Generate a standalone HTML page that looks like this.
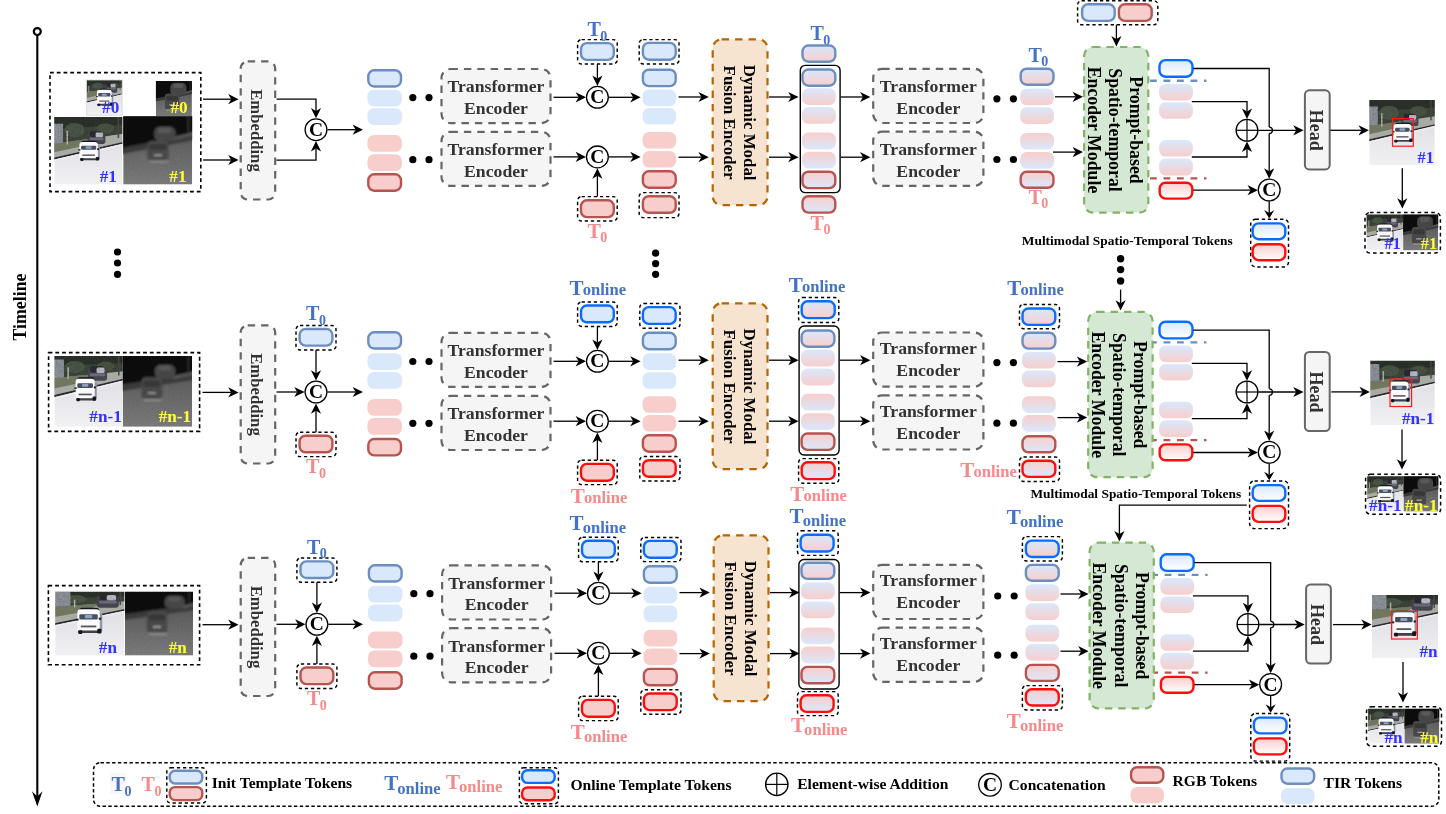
<!DOCTYPE html>
<html><head><meta charset="utf-8"><title>diagram</title>
<style>
html,body{margin:0;padding:0;background:#fff;}
svg{display:block;font-family:"Liberation Serif",serif;font-weight:bold;will-change:transform;}
</style></head><body>
<svg width="1446" height="814" viewBox="0 0 1446 814">
<defs>
<linearGradient id="gBP" x1="0" y1="0" x2="0" y2="1"><stop offset="0" stop-color="#dae8fc"/><stop offset="1" stop-color="#f8cecc"/></linearGradient>
<linearGradient id="gPB" x1="0" y1="0" x2="0" y2="1"><stop offset="0" stop-color="#f8cecc"/><stop offset="1" stop-color="#dae8fc"/></linearGradient>
<linearGradient id="gWB" x1="0" y1="0" x2="0" y2="1"><stop offset="0" stop-color="#dae8fc"/><stop offset="1" stop-color="#ffffff"/></linearGradient>
<linearGradient id="gWP" x1="0" y1="0" x2="0" y2="1"><stop offset="0" stop-color="#f8cecc"/><stop offset="1" stop-color="#ffffff"/></linearGradient>
<linearGradient id="gRoad" x1="0" y1="0" x2="0" y2="1"><stop offset="0.3" stop-color="#dfdfe4"/><stop offset="1" stop-color="#f1f1f4"/></linearGradient>
<linearGradient id="gTir" x1="0" y1="0" x2="0" y2="1"><stop offset="0.3" stop-color="#5c5c5c"/><stop offset="1" stop-color="#7b7b7b"/></linearGradient>
<filter id="bl" x="-5%" y="-5%" width="110%" height="110%"><feGaussianBlur stdDeviation="0.9"/></filter>
<filter id="bl2" x="-5%" y="-5%" width="110%" height="110%"><feGaussianBlur stdDeviation="1.6"/></filter>
<filter id="nz" x="0" y="0" width="100%" height="100%">
 <feTurbulence type="fractalNoise" baseFrequency="0.35" numOctaves="2" seed="7" result="n"/>
 <feColorMatrix in="n" type="matrix" values="0 0 0 0 0  0 0 0 0 0  0 0 0 0 0  0 0 0 -1.6 0.95" result="a"/>
 <feComposite in="a" in2="SourceGraphic" operator="in"/>
</filter>
<symbol id="rgbA" viewBox="0 0 100 100" preserveAspectRatio="none">
<rect width="100" height="100" fill="url(#gRoad)"/>
<g filter="url(#bl)">
<polygon points="-5,40.75 105,24.25 105,35.85 -5,61.15" fill="#a9aaa4"/>
<polygon points="-5,40.75 66,30.1 46,42.08 -5,53.4" fill="#6f775e"/>
<polygon points="-5,-5 105,-5 105,24.25 -5,40.75" fill="#3c443a"/>
<polygon points="-5,-5 105,-5 105,10.91 -5,18.34" fill="#2b322b"/>
<ellipse cx="30" cy="19.53" rx="15" ry="10.65" fill="#4a5546"/>
<ellipse cx="75" cy="17.25" rx="13" ry="8.05" fill="#485243"/>
<polygon points="-5,10 13,10 13,38 -5,40" fill="#8b9098"/>
<rect x="18" y="20.35" width="2.2" height="20.35" fill="#b5b1a4"/>
<rect x="93" y="0" width="2.2" height="31.05" fill="#4a4944"/>
<polygon points="-5,61.15 105,35.85 105,38.45 -5,64.15" fill="#2a2a2d"/>
<polygon points="-5,64.15 105,38.45 105,40.85 -5,67.15" fill="#ededf0"/>
<rect x="49" y="23.28" width="26" height="16.72" rx="4.16" fill="#45454f"/>
<rect x="52.12" y="21" width="18.2" height="8.55" rx="3.12" fill="#2a2a30"/>
<rect x="60.7" y="22.9" width="10.92" height="7.22" rx="2.08" fill="#b9b9c4"/>
<rect x="51.6" y="30.5" width="20.8" height="3.8" rx="2" fill="#6c6c78"/>
<rect x="39.4" y="35" width="24" height="6" rx="3.6" fill="#15151a"/>
<rect x="62.2" y="41" width="4.8" height="21" rx="1.5" fill="#8f95ab"/>
<rect x="37" y="36.8" width="27" height="26.4" rx="4.2" fill="#fafafa"/>
<rect x="39.4" y="42.5" width="22.2" height="6" rx="2" fill="#46505c"/>
<rect x="46" y="43.4" width="9" height="3.6" rx="1.5" fill="#8ea0c4"/>
<rect x="41.2" y="55.4" width="18.6" height="2.1" fill="#55565e"/>
<rect x="37.9" y="61.1" width="27" height="3" rx="1.5" fill="#3f3f46"/>
<rect x="38.2" y="60.8" width="4.8" height="4.2" rx="1.5" fill="#17171a"/>
<rect x="61" y="59" width="5.1" height="5.4" rx="1.5" fill="#17171a"/>
<rect x="35.5" y="47.6" width="3" height="2.1" fill="#222"/>
<rect x="62.8" y="46.4" width="3" height="2.4" fill="#222"/>
</g>
<polygon points="0,0 100,0 100,25 0,40" fill="#000" filter="url(#nz)" opacity="0.22"/>
</symbol>
<symbol id="rgbB" viewBox="0 0 100 100" preserveAspectRatio="none">
<rect width="100" height="100" fill="url(#gRoad)"/>
<g filter="url(#bl)">
<polygon points="-5,31.45 105,21.55 105,30.85 -5,56.15" fill="#a9aaa4"/>
<polygon points="-5,31.45 66,25.06 46,36.52 -5,46.76" fill="#6f775e"/>
<polygon points="-5,-5 105,-5 105,21.55 -5,31.45" fill="#3c443a"/>
<polygon points="-5,-5 105,-5 105,9.7 -5,14.15" fill="#2b322b"/>
<ellipse cx="30" cy="15.57" rx="15" ry="8.49" fill="#4a5546"/>
<ellipse cx="75" cy="14.55" rx="13" ry="6.79" fill="#485243"/>
<polygon points="-5,5 14,5 14,30 -5,32" fill="#8b9098"/>
<rect x="19" y="16.06" width="2.2" height="16.06" fill="#b5b1a4"/>
<rect x="93" y="0" width="2.2" height="27.63" fill="#4a4944"/>
<polygon points="-5,56.15 105,30.85 105,33.45 -5,59.15" fill="#2a2a2d"/>
<polygon points="-5,59.15 105,33.45 105,35.85 -5,62.15" fill="#ededf0"/>
<rect x="49" y="16.52" width="28" height="18.48" rx="4.48" fill="#45454f"/>
<rect x="52.36" y="14" width="19.6" height="9.45" rx="3.36" fill="#2a2a30"/>
<rect x="61.6" y="16.1" width="11.76" height="7.98" rx="2.24" fill="#b9b9c4"/>
<rect x="51.8" y="24.5" width="22.4" height="4.2" rx="2" fill="#6c6c78"/>
<rect x="33.48" y="30" width="24.8" height="6.8" rx="3.72" fill="#15151a"/>
<rect x="57.04" y="36.8" width="4.96" height="23.8" rx="1.5" fill="#8f95ab"/>
<rect x="31" y="32.04" width="27.9" height="29.92" rx="4.34" fill="#fafafa"/>
<rect x="33.48" y="38.5" width="22.94" height="6.8" rx="2" fill="#46505c"/>
<rect x="40.3" y="39.52" width="9.3" height="4.08" rx="1.5" fill="#8ea0c4"/>
<rect x="35.34" y="53.12" width="19.22" height="2.38" fill="#55565e"/>
<rect x="31.93" y="59.58" width="27.9" height="3.4" rx="1.5" fill="#3f3f46"/>
<rect x="32.24" y="59.24" width="4.96" height="4.76" rx="1.5" fill="#17171a"/>
<rect x="55.8" y="57.2" width="5.27" height="6.12" rx="1.5" fill="#17171a"/>
<rect x="29.45" y="44.28" width="3.1" height="2.38" fill="#222"/>
<rect x="57.66" y="42.92" width="3.1" height="2.72" fill="#222"/>
</g>
<polygon points="0,0 100,0 100,22 0,31" fill="#000" filter="url(#nz)" opacity="0.22"/>
</symbol>
<symbol id="rgbC" viewBox="0 0 100 100" preserveAspectRatio="none">
<rect width="100" height="100" fill="url(#gRoad)"/>
<g filter="url(#bl)">
<polygon points="-5,24.45 105,14.55 105,25.9 -5,50.1" fill="#a9aaa4"/>
<polygon points="-5,24.45 66,18.06 46,30.32 -5,40.35" fill="#6f775e"/>
<polygon points="-5,-5 105,-5 105,14.55 -5,24.45" fill="#3c443a"/>
<polygon points="-5,-5 105,-5 105,6.55 -5,11" fill="#2b322b"/>
<ellipse cx="30" cy="11.72" rx="15" ry="6.39" fill="#4a5546"/>
<ellipse cx="75" cy="10.35" rx="13" ry="4.83" fill="#485243"/>
<polygon points="-5,0 22,0 22,22 -5,24" fill="#8b9098"/>
<rect x="27" y="12.21" width="2.2" height="12.21" fill="#b5b1a4"/>
<rect x="93" y="0" width="2.2" height="20.63" fill="#4a4944"/>
<polygon points="-5,50.1 105,25.9 105,28.5 -5,53.1" fill="#2a2a2d"/>
<polygon points="-5,53.1 105,28.5 105,30.9 -5,56.1" fill="#ededf0"/>
<rect x="60" y="5.64" width="32" height="19.36" rx="5.12" fill="#45454f"/>
<rect x="63.84" y="3" width="22.4" height="9.9" rx="3.84" fill="#2a2a30"/>
<rect x="74.4" y="5.2" width="13.44" height="8.36" rx="2.56" fill="#b9b9c4"/>
<rect x="63.2" y="14" width="25.6" height="4.4" rx="2" fill="#6c6c78"/>
<rect x="34.88" y="25" width="28.8" height="8.2" rx="4.32" fill="#15151a"/>
<rect x="62.24" y="33.2" width="5.76" height="28.7" rx="1.5" fill="#8f95ab"/>
<rect x="32" y="27.46" width="32.4" height="36.08" rx="5.04" fill="#fafafa"/>
<rect x="34.88" y="35.25" width="26.64" height="8.2" rx="2" fill="#46505c"/>
<rect x="42.8" y="36.48" width="10.8" height="4.92" rx="1.5" fill="#8ea0c4"/>
<rect x="37.04" y="52.88" width="22.32" height="2.87" fill="#55565e"/>
<rect x="33.08" y="60.67" width="32.4" height="4.1" rx="1.5" fill="#3f3f46"/>
<rect x="33.44" y="60.26" width="5.76" height="5.74" rx="1.5" fill="#17171a"/>
<rect x="60.8" y="57.8" width="6.12" height="7.38" rx="1.5" fill="#17171a"/>
<rect x="30.2" y="42.22" width="3.6" height="2.87" fill="#222"/>
<rect x="62.96" y="40.58" width="3.6" height="3.28" fill="#222"/>
</g>
<polygon points="0,0 100,0 100,15 0,24" fill="#000" filter="url(#nz)" opacity="0.22"/>
</symbol>
<symbol id="tirA" viewBox="0 0 100 100" preserveAspectRatio="none">
<rect width="100" height="100" fill="url(#gTir)"/>
<g filter="url(#bl2)">
<polygon points="-5,-5 105,-5 105,34 -5,56" fill="#3a3a3a"/>
<polygon points="-5,-5 105,-5 105,25 -5,47" fill="#0a0a0a"/>
<polygon points="72,30.6 105,22 105,27 72,35.6" fill="#565656"/>
<rect x="93.5" y="0" width="1.8" height="27.2" fill="#3a3a3a"/>
<rect x="45" y="15" width="31" height="22" rx="8.68" fill="#474747"/>
<rect x="50.58" y="16.76" width="18.6" height="7.7" rx="3.72" fill="#5a5a5a"/>
<rect x="35" y="36" width="31" height="29.44" rx="6.2" fill="#4a4a4a"/>
<rect x="38.1" y="40.48" width="24.8" height="8.32" rx="3" fill="#383838"/>
<rect x="44.3" y="55.84" width="12.4" height="2.24" rx="1" fill="#a8a8a8"/>
<rect x="37.48" y="64.8" width="27.9" height="3.2" rx="2" fill="#8c8c8c"/>
</g>
<rect width="100" height="100" fill="#fff" filter="url(#nz)" opacity="0.07"/>
</symbol>
<symbol id="tirT" viewBox="0 0 100 100" preserveAspectRatio="none">
<rect width="100" height="100" fill="url(#gTir)"/>
<g filter="url(#bl2)">
<polygon points="-5,-5 105,-5 105,35.95 -5,59.05" fill="#3a3a3a"/>
<polygon points="-5,-5 105,-5 105,26.95 -5,50.05" fill="#0a0a0a"/>
<polygon points="81,30.99 105,23.95 105,28.95 81,35.99" fill="#565656"/>
<rect x="93.5" y="0" width="1.8" height="29.26" fill="#3a3a3a"/>
<rect x="40" y="5" width="45" height="35" rx="12.6" fill="#474747"/>
<rect x="48.1" y="7.8" width="27" height="12.25" rx="5.4" fill="#5a5a5a"/>
<rect x="25" y="35" width="40" height="46" rx="8" fill="#4a4a4a"/>
<rect x="29" y="42" width="32" height="13" rx="3" fill="#383838"/>
<rect x="37" y="66" width="16" height="3.5" rx="1" fill="#a8a8a8"/>
<rect x="28.2" y="80" width="36" height="5" rx="2" fill="#8c8c8c"/>
</g>
<rect width="100" height="100" fill="#fff" filter="url(#nz)" opacity="0.07"/>
</symbol>
<symbol id="rgbT" viewBox="0 0 100 100" preserveAspectRatio="none">
<rect width="100" height="100" fill="url(#gRoad)"/>
<g filter="url(#bl)">
<polygon points="-5,34.6 105,21.4 105,36.85 -5,62.15" fill="#a9aaa4"/>
<polygon points="-5,34.6 66,26.08 46,40.55 -5,51.68" fill="#6f775e"/>
<polygon points="-5,-5 105,-5 105,21.4 -5,34.6" fill="#3c443a"/>
<polygon points="-5,-5 105,-5 105,9.63 -5,15.57" fill="#2b322b"/>
<ellipse cx="30" cy="16.72" rx="15" ry="9.12" fill="#4a5546"/>
<ellipse cx="75" cy="15" rx="13" ry="7" fill="#485243"/>
<polygon points="-5,0 0,0 0,0 -5,2" fill="#8b9098"/>
<rect x="5" y="17.38" width="2.2" height="17.38" fill="#b5b1a4"/>
<rect x="93" y="0" width="2.2" height="27.84" fill="#4a4944"/>
<polygon points="-5,62.15 105,36.85 105,39.45 -5,65.15" fill="#2a2a2d"/>
<polygon points="-5,65.15 105,39.45 105,41.85 -5,68.15" fill="#ededf0"/>
<rect x="52" y="11.36" width="34" height="24.64" rx="5.44" fill="#45454f"/>
<rect x="56.08" y="8" width="23.8" height="12.6" rx="4.08" fill="#2a2a30"/>
<rect x="67.3" y="10.8" width="14.28" height="10.64" rx="2.72" fill="#b9b9c4"/>
<rect x="55.4" y="22" width="27.2" height="5.6" rx="2" fill="#6c6c78"/>
<rect x="32.68" y="25" width="36.8" height="9.8" rx="5.52" fill="#15151a"/>
<rect x="67.64" y="34.8" width="7.36" height="34.3" rx="1.5" fill="#8f95ab"/>
<rect x="29" y="27.94" width="41.4" height="43.12" rx="6.44" fill="#fafafa"/>
<rect x="32.68" y="37.25" width="34.04" height="9.8" rx="2" fill="#46505c"/>
<rect x="42.8" y="38.72" width="13.8" height="5.88" rx="1.5" fill="#8ea0c4"/>
<rect x="35.44" y="58.32" width="28.52" height="3.43" fill="#55565e"/>
<rect x="30.38" y="67.63" width="41.4" height="4.9" rx="1.5" fill="#3f3f46"/>
<rect x="30.84" y="67.14" width="7.36" height="6.86" rx="1.5" fill="#17171a"/>
<rect x="65.8" y="64.2" width="7.82" height="8.82" rx="1.5" fill="#17171a"/>
<rect x="26.7" y="45.58" width="4.6" height="3.43" fill="#222"/>
<rect x="68.56" y="43.62" width="4.6" height="3.92" fill="#222"/>
</g>
<polygon points="0,0 100,0 100,22 0,34" fill="#000" filter="url(#nz)" opacity="0.22"/>
</symbol>
<symbol id="tirB" viewBox="0 0 100 100" preserveAspectRatio="none">
<rect width="100" height="100" fill="url(#gTir)"/>
<g filter="url(#bl2)">
<polygon points="-5,-5 105,-5 105,33.25 -5,49.75" fill="#3a3a3a"/>
<polygon points="-5,-5 105,-5 105,24.25 -5,40.75" fill="#0a0a0a"/>
<polygon points="72,28.2 105,21.25 105,26.25 72,33.2" fill="#565656"/>
<rect x="93.5" y="0" width="1.8" height="25.9" fill="#3a3a3a"/>
<rect x="46" y="12" width="30" height="20" rx="8.4" fill="#474747"/>
<rect x="51.4" y="13.6" width="18" height="7" rx="3.6" fill="#5a5a5a"/>
<rect x="27" y="30" width="30" height="31.28" rx="6" fill="#4a4a4a"/>
<rect x="30" y="34.76" width="24" height="8.84" rx="3" fill="#383838"/>
<rect x="36" y="51.08" width="12" height="2.38" rx="1" fill="#a8a8a8"/>
<rect x="29.4" y="60.6" width="27" height="3.4" rx="2" fill="#8c8c8c"/>
</g>
<rect width="100" height="100" fill="#fff" filter="url(#nz)" opacity="0.07"/>
</symbol>
<symbol id="tirC" viewBox="0 0 100 100" preserveAspectRatio="none">
<rect width="100" height="100" fill="url(#gTir)"/>
<g filter="url(#bl2)">
<polygon points="-5,-5 105,-5 105,28.25 -5,44.75" fill="#3a3a3a"/>
<polygon points="-5,-5 105,-5 105,19.25 -5,35.75" fill="#0a0a0a"/>
<polygon points="84,21.4 105,16.25 105,21.25 84,26.4" fill="#565656"/>
<rect x="93.5" y="0" width="1.8" height="20.9" fill="#3a3a3a"/>
<rect x="58" y="6" width="30" height="20" rx="8.4" fill="#474747"/>
<rect x="63.4" y="7.6" width="18" height="7" rx="3.6" fill="#5a5a5a"/>
<rect x="32" y="30" width="30" height="34.96" rx="6" fill="#4a4a4a"/>
<rect x="35" y="35.32" width="24" height="9.88" rx="3" fill="#383838"/>
<rect x="41" y="53.56" width="12" height="2.66" rx="1" fill="#a8a8a8"/>
<rect x="34.4" y="64.2" width="27" height="3.8" rx="2" fill="#8c8c8c"/>
</g>
<rect width="100" height="100" fill="#fff" filter="url(#nz)" opacity="0.07"/>
</symbol>
</defs>
<rect width="1446" height="814" fill="#fff"/>

<g id="timeline">
<polyline points="37.3,35.5 37.3,797.5" fill="none" stroke="#000" stroke-width="2.1"/>
<circle cx="37.3" cy="31.6" r="3.5" fill="#fff" stroke="#000" stroke-width="2.2"/>
<polygon points="37.3,806.4 32,791.2 37.3,796.6 42.5,791.2" fill="#000"/>
<text transform="translate(25.7,307) rotate(-90)" font-size="17.8" fill="#000" text-anchor="middle">Timeline</text>
</g>
<circle cx="117.5" cy="252" r="3.6" fill="#000"/>
<circle cx="117.5" cy="263" r="3.6" fill="#000"/>
<circle cx="117.5" cy="274.3" r="3.6" fill="#000"/>
<circle cx="655.6" cy="253.2" r="3.6" fill="#000"/>
<circle cx="655.6" cy="263.6" r="3.6" fill="#000"/>
<circle cx="655.6" cy="274.3" r="3.6" fill="#000"/>
<circle cx="1120.6" cy="258.8" r="3.7" fill="#000"/>
<circle cx="1120.6" cy="269.6" r="3.7" fill="#000"/>
<circle cx="1120.6" cy="281" r="3.7" fill="#000"/>
<g id="rowA1">
<rect x="240.7" y="61.4" width="34.5" height="138.1" rx="7" fill="#f5f5f5" stroke="#666666" stroke-width="2.2" stroke-dasharray="7.4 6"/>
<text transform="translate(250.8,130.45) rotate(90)" font-size="16.7" fill="#333333" text-anchor="middle">Embedding</text>
<polyline points="203,99.2 231.2,99.2" fill="none" stroke="#000" stroke-width="1.3"/>
<polygon points="238.6,99.2 228.2,104.3 231.2,99.2 228.2,94.1" fill="#000"/>
<polyline points="203,160 231.2,160" fill="none" stroke="#000" stroke-width="1.3"/>
<polygon points="238.6,160 228.2,165.1 231.2,160 228.2,154.9" fill="#000"/>
<polyline points="276.5,99.2 316,99.2 316,110.9" fill="none" stroke="#000" stroke-width="1.3"/>
<polygon points="316,118.3 310.9,107.9 316,110.9 321.1,107.9" fill="#000"/>
<polyline points="276.5,160.2 316,160.2 316,148.5" fill="none" stroke="#000" stroke-width="1.3"/>
<polygon points="316,141.1 321.1,151.5 316,148.5 310.9,151.5" fill="#000"/>
<circle cx="316" cy="129.7" r="10.9" fill="#fff" stroke="#000" stroke-width="1.3"/>
<text x="316" y="135.8" font-size="19.5" fill="#000" text-anchor="middle">C</text>
<polyline points="327.4,129.7 355.6,129.7" fill="none" stroke="#000" stroke-width="1.3"/>
<polygon points="363,129.7 352.6,134.8 355.6,129.7 352.6,124.6" fill="#000"/>
<rect x="368.3" y="70.3" width="32.7" height="16.2" rx="5.9" fill="#dae8fc" stroke="#6c8ebf" stroke-width="2.4"/>
<rect x="367.4" y="89.7" width="34.5" height="16.8" rx="6.5" fill="#dae8fc"/>
<rect x="367.4" y="108.2" width="34.5" height="16.8" rx="6.5" fill="#dae8fc"/>
<rect x="367.4" y="135" width="34.5" height="16.8" rx="6.5" fill="#f8cecc"/>
<rect x="367.4" y="154.3" width="34.5" height="16.8" rx="6.5" fill="#f8cecc"/>
<rect x="368.3" y="174.3" width="32.7" height="16.4" rx="5.9" fill="#f8cecc" stroke="#b85450" stroke-width="2.4"/>
<circle cx="412.8" cy="97.6" r="3.6" fill="#000"/>
<circle cx="412.8" cy="159.7" r="3.6" fill="#000"/>
<circle cx="429" cy="97.6" r="3.6" fill="#000"/>
<circle cx="429" cy="159.7" r="3.6" fill="#000"/>
<rect x="441.5" y="69" width="109" height="54.1" rx="9" fill="#f5f5f5" stroke="#666666" stroke-width="2.2" stroke-dasharray="7.4 6"/>
<text x="496" y="92.3" font-size="17.7" fill="#333333" text-anchor="middle">Transformer</text>
<text x="496" y="113.8" font-size="17.7" fill="#333333" text-anchor="middle">Encoder</text>
<rect x="441.5" y="131.8" width="109" height="54.1" rx="9" fill="#f5f5f5" stroke="#666666" stroke-width="2.2" stroke-dasharray="7.4 6"/>
<text x="496" y="155.1" font-size="17.7" fill="#333333" text-anchor="middle">Transformer</text>
<text x="496" y="176.6" font-size="17.7" fill="#333333" text-anchor="middle">Encoder</text>
<polyline points="553.5,97.3 578.6,97.3" fill="none" stroke="#000" stroke-width="1.3"/>
<polygon points="586,97.3 575.6,102.4 578.6,97.3 575.6,92.2" fill="#000"/>
<polyline points="553.5,156.9 578.6,156.9" fill="none" stroke="#000" stroke-width="1.3"/>
<polygon points="586,156.9 575.6,162 578.6,156.9 575.6,151.8" fill="#000"/>
<rect x="577.6" y="39.6" width="39.6" height="24.4" rx="4" fill="none" stroke="#000" stroke-width="1.45" stroke-dasharray="3.3 2.8"/>
<rect x="581" y="43.1" width="32.8" height="16.8" rx="5.9" fill="#dae8fc" stroke="#6c8ebf" stroke-width="2.4"/>
<polyline points="597.4,64 597.4,78.5" fill="none" stroke="#000" stroke-width="1.3"/>
<polygon points="597.4,85.9 592.3,75.5 597.4,78.5 602.5,75.5" fill="#000"/>
<rect x="577.6" y="196.6" width="39.6" height="24.4" rx="4" fill="none" stroke="#000" stroke-width="1.45" stroke-dasharray="3.3 2.8"/>
<rect x="581" y="200.3" width="32.8" height="16.8" rx="5.9" fill="#f8cecc" stroke="#b85450" stroke-width="2.4"/>
<polyline points="597.4,196.6 597.4,175.7" fill="none" stroke="#000" stroke-width="1.3"/>
<polygon points="597.4,168.3 602.5,178.7 597.4,175.7 592.3,178.7" fill="#000"/>
<text x="587.4" y="36" font-size="20" fill="#4472c4">T<tspan font-size="14" dx="-0.4" dy="4.6">0</tspan></text>
<text x="587.4" y="237.6" font-size="20" fill="#f58a8a">T<tspan font-size="14" dx="-0.4" dy="4.6">0</tspan></text>
<circle cx="597.4" cy="97.3" r="10.9" fill="#fff" stroke="#000" stroke-width="1.3"/>
<text x="597.4" y="103.4" font-size="19.5" fill="#000" text-anchor="middle">C</text>
<circle cx="597.4" cy="156.9" r="10.9" fill="#fff" stroke="#000" stroke-width="1.3"/>
<text x="597.4" y="163" font-size="19.5" fill="#000" text-anchor="middle">C</text>
<polyline points="608.8,97.3 633.2,97.3" fill="none" stroke="#000" stroke-width="1.3"/>
<polygon points="640.6,97.3 630.2,102.4 633.2,97.3 630.2,92.2" fill="#000"/>
<polyline points="608.8,156.9 633.2,156.9" fill="none" stroke="#000" stroke-width="1.3"/>
<polygon points="640.6,156.9 630.2,162 633.2,156.9 630.2,151.8" fill="#000"/>
<rect x="639.2" y="39.6" width="39.8" height="24.4" rx="4" fill="none" stroke="#000" stroke-width="1.45" stroke-dasharray="3.3 2.8"/>
<rect x="639.2" y="192.6" width="39.8" height="25" rx="4" fill="none" stroke="#000" stroke-width="1.45" stroke-dasharray="3.3 2.8"/>
<rect x="642.9" y="42.9" width="32.8" height="16.8" rx="5.9" fill="#dae8fc" stroke="#6c8ebf" stroke-width="2.4"/>
<rect x="642.9" y="69.7" width="32.8" height="16.4" rx="5.9" fill="#dae8fc" stroke="#6c8ebf" stroke-width="2.4"/>
<rect x="642.6" y="89.6" width="33.6" height="16.6" rx="6.5" fill="#dae8fc"/>
<rect x="642.6" y="108" width="33.6" height="16.6" rx="6.5" fill="#dae8fc"/>
<rect x="642.6" y="132" width="33.6" height="16.6" rx="6.5" fill="#f8cecc"/>
<rect x="642.6" y="151" width="33.6" height="16.6" rx="6.5" fill="#f8cecc"/>
<rect x="642.9" y="171.3" width="32.8" height="16.4" rx="5.9" fill="#f8cecc" stroke="#b85450" stroke-width="2.4"/>
<rect x="642.9" y="196.2" width="32.8" height="16.6" rx="5.9" fill="#f8cecc" stroke="#b85450" stroke-width="2.4"/>
<polyline points="678.5,97 701.4,97" fill="none" stroke="#000" stroke-width="1.3"/>
<polygon points="708.8,97 698.4,102.1 701.4,97 698.4,91.9" fill="#000"/>
<polyline points="678.5,157.2 701.4,157.2" fill="none" stroke="#000" stroke-width="1.3"/>
<polygon points="708.8,157.2 698.4,162.3 701.4,157.2 698.4,152.1" fill="#000"/>
<rect x="712.7" y="39.4" width="54.8" height="165.8" rx="9" fill="#f6e4d0" stroke="#b46504" stroke-width="2.2" stroke-dasharray="7.4 6"/>
<text transform="translate(744.2,122.6) rotate(90)" font-size="16.9" fill="#000" text-anchor="middle">Dynamic Modal</text>
<text transform="translate(723.6,122.6) rotate(90)" font-size="16.9" fill="#000" text-anchor="middle">Fusion Encoder</text>
<polyline points="769,97 791.2,97" fill="none" stroke="#000" stroke-width="1.3"/>
<polygon points="798.6,97 788.2,102.1 791.2,97 788.2,91.9" fill="#000"/>
<polyline points="769,157.2 791.2,157.2" fill="none" stroke="#000" stroke-width="1.3"/>
<polygon points="798.6,157.2 788.2,162.3 791.2,157.2 788.2,152.1" fill="#000"/>
<text x="810.4" y="40.3" font-size="20" fill="#4472c4">T<tspan font-size="14" dx="-0.4" dy="4.6">0</tspan></text>
<text x="810.6" y="229.6" font-size="20" fill="#f58a8a">T<tspan font-size="14" dx="-0.4" dy="4.6">0</tspan></text>
<rect x="802.5" y="45.5" width="32.8" height="16.2" rx="5.9" fill="url(#gBP)" stroke="#6c8ebf" stroke-width="2.4"/>
<rect x="802.5" y="196.2" width="32.8" height="16.4" rx="5.9" fill="url(#gPB)" stroke="#b85450" stroke-width="2.4"/>
<rect x="800.3" y="65.4" width="39.8" height="127.2" rx="5" fill="none" stroke="#000" stroke-width="1.4"/>
<rect x="802.5" y="69.5" width="32.8" height="16.2" rx="5.9" fill="url(#gBP)" stroke="#6c8ebf" stroke-width="2.4"/>
<rect x="802" y="88.2" width="33.8" height="16.8" rx="6.5" fill="url(#gBP)"/>
<rect x="802" y="107" width="33.8" height="16.8" rx="6.5" fill="url(#gBP)"/>
<rect x="802" y="132.6" width="33.8" height="16.8" rx="6.5" fill="url(#gPB)"/>
<rect x="802" y="151.8" width="33.8" height="16.8" rx="6.5" fill="url(#gPB)"/>
<rect x="802.5" y="171.7" width="32.8" height="16.4" rx="5.9" fill="url(#gPB)" stroke="#b85450" stroke-width="2.4"/>
<polyline points="840.8,97 863,97" fill="none" stroke="#000" stroke-width="1.3"/>
<polygon points="870.4,97 860,102.1 863,97 860,91.9" fill="#000"/>
<polyline points="840.8,157.2 863,157.2" fill="none" stroke="#000" stroke-width="1.3"/>
<polygon points="870.4,157.2 860,162.3 863,157.2 860,152.1" fill="#000"/>
<rect x="873.2" y="68.8" width="110.2" height="54.2" rx="9" fill="#f5f5f5" stroke="#666666" stroke-width="2.2" stroke-dasharray="7.4 6"/>
<text x="928.3" y="92.1" font-size="17.7" fill="#333333" text-anchor="middle">Transformer</text>
<text x="928.3" y="113.6" font-size="17.7" fill="#333333" text-anchor="middle">Encoder</text>
<rect x="873.2" y="131.7" width="110.2" height="54.2" rx="9" fill="#f5f5f5" stroke="#666666" stroke-width="2.2" stroke-dasharray="7.4 6"/>
<text x="928.3" y="155" font-size="17.7" fill="#333333" text-anchor="middle">Transformer</text>
<text x="928.3" y="176.5" font-size="17.7" fill="#333333" text-anchor="middle">Encoder</text>
<circle cx="996.9" cy="98.8" r="3.6" fill="#000"/>
<circle cx="996.9" cy="159.5" r="3.6" fill="#000"/>
<circle cx="1013.4" cy="98.8" r="3.6" fill="#000"/>
<circle cx="1013.4" cy="159.5" r="3.6" fill="#000"/>
<text x="1028.4" y="61.5" font-size="20" fill="#4472c4">T<tspan font-size="14" dx="-0.4" dy="4.6">0</tspan></text>
<text x="1028.4" y="203.6" font-size="20" fill="#f58a8a">T<tspan font-size="14" dx="-0.4" dy="4.6">0</tspan></text>
<rect x="1020.7" y="68.7" width="32.8" height="16" rx="5.9" fill="url(#gBP)" stroke="#6c8ebf" stroke-width="2.4"/>
<rect x="1020.2" y="88.4" width="33.8" height="16.7" rx="6.5" fill="url(#gBP)"/>
<rect x="1020.2" y="107.2" width="33.8" height="16.7" rx="6.5" fill="url(#gBP)"/>
<rect x="1020.2" y="132.9" width="33.8" height="16.7" rx="6.5" fill="url(#gPB)"/>
<rect x="1020.2" y="152.1" width="33.8" height="16.7" rx="6.5" fill="url(#gPB)"/>
<rect x="1020.7" y="171.8" width="32.8" height="16" rx="5.9" fill="url(#gPB)" stroke="#b85450" stroke-width="2.4"/>
<polyline points="1055,96.8 1075.6,96.8" fill="none" stroke="#000" stroke-width="1.3"/>
<polygon points="1083,96.8 1072.6,101.9 1075.6,96.8 1072.6,91.7" fill="#000"/>
<polyline points="1053,152.1 1075.6,152.1" fill="none" stroke="#000" stroke-width="1.3"/>
<polygon points="1083,152.1 1072.6,157.2 1075.6,152.1 1072.6,147" fill="#000"/>
</g>
<g id="rowA2">
<rect x="240.7" y="325.4" width="34.5" height="138.1" rx="7" fill="#f5f5f5" stroke="#666666" stroke-width="2.2" stroke-dasharray="7.4 6"/>
<text transform="translate(250.8,394.45) rotate(90)" font-size="16.7" fill="#333333" text-anchor="middle">Embedding</text>
<polyline points="202.5,392.4 231.2,392.4" fill="none" stroke="#000" stroke-width="1.3"/>
<polygon points="238.6,392.4 228.2,397.5 231.2,392.4 228.2,387.3" fill="#000"/>
<polyline points="276.5,392 297.2,392" fill="none" stroke="#000" stroke-width="1.3"/>
<polygon points="304.6,392 294.2,397.1 297.2,392 294.2,386.9" fill="#000"/>
<rect x="296" y="325.5" width="40" height="24.4" rx="4" fill="none" stroke="#000" stroke-width="1.45" stroke-dasharray="3.3 2.8"/>
<rect x="299.6" y="329" width="32.8" height="16.6" rx="5.9" fill="#dae8fc" stroke="#6c8ebf" stroke-width="2.4"/>
<text x="306" y="319.9" font-size="20" fill="#4472c4">T<tspan font-size="14" dx="-0.4" dy="4.6">0</tspan></text>
<polyline points="316,349.9 316,373.2" fill="none" stroke="#000" stroke-width="1.3"/>
<polygon points="316,380.6 310.9,370.2 316,373.2 321.1,370.2" fill="#000"/>
<rect x="296" y="432.2" width="40" height="24.4" rx="4" fill="none" stroke="#000" stroke-width="1.45" stroke-dasharray="3.3 2.8"/>
<rect x="299.6" y="435.7" width="32.8" height="16.6" rx="5.9" fill="#f8cecc" stroke="#b85450" stroke-width="2.4"/>
<text x="306" y="473.2" font-size="20" fill="#f58a8a">T<tspan font-size="14" dx="-0.4" dy="4.6">0</tspan></text>
<polyline points="316,432.2 316,410.8" fill="none" stroke="#000" stroke-width="1.3"/>
<polygon points="316,403.4 321.1,413.8 316,410.8 310.9,413.8" fill="#000"/>
<circle cx="316" cy="392" r="10.9" fill="#fff" stroke="#000" stroke-width="1.3"/>
<text x="316" y="398.1" font-size="19.5" fill="#000" text-anchor="middle">C</text>
<polyline points="327.4,392 355.6,392" fill="none" stroke="#000" stroke-width="1.3"/>
<polygon points="363,392 352.6,397.1 355.6,392 352.6,386.9" fill="#000"/>
<rect x="368.3" y="332.3" width="32.7" height="16.2" rx="5.9" fill="#dae8fc" stroke="#6c8ebf" stroke-width="2.4"/>
<rect x="367.4" y="353.2" width="34.5" height="16.8" rx="6.5" fill="#dae8fc"/>
<rect x="367.4" y="372" width="34.5" height="16.8" rx="6.5" fill="#dae8fc"/>
<rect x="367.4" y="399" width="34.5" height="16.8" rx="6.5" fill="#f8cecc"/>
<rect x="367.4" y="418" width="34.5" height="16.8" rx="6.5" fill="#f8cecc"/>
<rect x="368.3" y="439" width="32.7" height="16.4" rx="5.9" fill="#f8cecc" stroke="#b85450" stroke-width="2.4"/>
<circle cx="412.8" cy="361.5" r="3.6" fill="#000"/>
<circle cx="412.8" cy="423.3" r="3.6" fill="#000"/>
<circle cx="429" cy="361.5" r="3.6" fill="#000"/>
<circle cx="429" cy="423.3" r="3.6" fill="#000"/>
<rect x="441.5" y="332.8" width="109" height="54.1" rx="9" fill="#f5f5f5" stroke="#666666" stroke-width="2.2" stroke-dasharray="7.4 6"/>
<text x="496" y="356.1" font-size="17.7" fill="#333333" text-anchor="middle">Transformer</text>
<text x="496" y="377.6" font-size="17.7" fill="#333333" text-anchor="middle">Encoder</text>
<rect x="441.5" y="395.9" width="109" height="54.1" rx="9" fill="#f5f5f5" stroke="#666666" stroke-width="2.2" stroke-dasharray="7.4 6"/>
<text x="496" y="419.2" font-size="17.7" fill="#333333" text-anchor="middle">Transformer</text>
<text x="496" y="440.7" font-size="17.7" fill="#333333" text-anchor="middle">Encoder</text>
<polyline points="553.5,361.3 578.6,361.3" fill="none" stroke="#000" stroke-width="1.3"/>
<polygon points="586,361.3 575.6,366.4 578.6,361.3 575.6,356.2" fill="#000"/>
<polyline points="553.5,421.2 578.6,421.2" fill="none" stroke="#000" stroke-width="1.3"/>
<polygon points="586,421.2 575.6,426.3 578.6,421.2 575.6,416.1" fill="#000"/>
<rect x="577.6" y="302" width="39.6" height="24.4" rx="4" fill="none" stroke="#000" stroke-width="1.45" stroke-dasharray="3.3 2.8"/>
<rect x="581" y="305.5" width="32.8" height="16.8" rx="5.9" fill="#dae8fc" stroke="#0a6cff" stroke-width="2.4"/>
<polyline points="597.4,326.4 597.4,342.5" fill="none" stroke="#000" stroke-width="1.3"/>
<polygon points="597.4,349.9 592.3,339.5 597.4,342.5 602.5,339.5" fill="#000"/>
<rect x="577.6" y="460.2" width="39.6" height="24.4" rx="4" fill="none" stroke="#000" stroke-width="1.45" stroke-dasharray="3.3 2.8"/>
<rect x="581" y="463.9" width="32.8" height="16.8" rx="5.9" fill="#f8cecc" stroke="#ff0d0d" stroke-width="2.4"/>
<polyline points="597.4,460.2 597.4,440" fill="none" stroke="#000" stroke-width="1.3"/>
<polygon points="597.4,432.6 602.5,443 597.4,440 592.3,443" fill="#000"/>
<text x="569.6" y="295.2" font-size="21" fill="#4472c4">T<tspan font-size="16.6" dx="-0.9" dy="0.0">online</tspan></text>
<text x="570.8" y="503" font-size="21" fill="#f58a8a">T<tspan font-size="16.6" dx="-0.9" dy="0.0">online</tspan></text>
<circle cx="597.4" cy="361.3" r="10.9" fill="#fff" stroke="#000" stroke-width="1.3"/>
<text x="597.4" y="367.4" font-size="19.5" fill="#000" text-anchor="middle">C</text>
<circle cx="597.4" cy="421.2" r="10.9" fill="#fff" stroke="#000" stroke-width="1.3"/>
<text x="597.4" y="427.3" font-size="19.5" fill="#000" text-anchor="middle">C</text>
<polyline points="608.8,361.3 633.2,361.3" fill="none" stroke="#000" stroke-width="1.3"/>
<polygon points="640.6,361.3 630.2,366.4 633.2,361.3 630.2,356.2" fill="#000"/>
<polyline points="608.8,421.2 633.2,421.2" fill="none" stroke="#000" stroke-width="1.3"/>
<polygon points="640.6,421.2 630.2,426.3 633.2,421.2 630.2,416.1" fill="#000"/>
<rect x="639.8" y="303.4" width="40.2" height="24.8" rx="4" fill="none" stroke="#000" stroke-width="1.45" stroke-dasharray="3.3 2.8"/>
<rect x="639.8" y="456.4" width="40.2" height="24.5" rx="4" fill="none" stroke="#000" stroke-width="1.45" stroke-dasharray="3.3 2.8"/>
<rect x="642.9" y="307.1" width="32.8" height="16.8" rx="5.9" fill="#dae8fc" stroke="#0a6cff" stroke-width="2.4"/>
<rect x="642.9" y="332.8" width="32.8" height="16.4" rx="5.9" fill="#dae8fc" stroke="#6c8ebf" stroke-width="2.4"/>
<rect x="642.6" y="353.3" width="33.6" height="16.6" rx="6.5" fill="#dae8fc"/>
<rect x="642.6" y="372.2" width="33.6" height="16.6" rx="6.5" fill="#dae8fc"/>
<rect x="642.6" y="396.2" width="33.6" height="16.6" rx="6.5" fill="#f8cecc"/>
<rect x="642.6" y="415" width="33.6" height="16.6" rx="6.5" fill="#f8cecc"/>
<rect x="642.9" y="435.3" width="32.8" height="16.4" rx="5.9" fill="#f8cecc" stroke="#b85450" stroke-width="2.4"/>
<rect x="642.9" y="460.2" width="32.8" height="16.6" rx="5.9" fill="#f8cecc" stroke="#ff0d0d" stroke-width="2.4"/>
<polyline points="678.5,360.2 701.4,360.2" fill="none" stroke="#000" stroke-width="1.3"/>
<polygon points="708.8,360.2 698.4,365.3 701.4,360.2 698.4,355.1" fill="#000"/>
<polyline points="678.5,421.2 701.4,421.2" fill="none" stroke="#000" stroke-width="1.3"/>
<polygon points="708.8,421.2 698.4,426.3 701.4,421.2 698.4,416.1" fill="#000"/>
<rect x="712.7" y="303.3" width="54.8" height="165.8" rx="9" fill="#f6e4d0" stroke="#b46504" stroke-width="2.2" stroke-dasharray="7.4 6"/>
<text transform="translate(744.2,386.5) rotate(90)" font-size="16.9" fill="#000" text-anchor="middle">Dynamic Modal</text>
<text transform="translate(723.6,386.5) rotate(90)" font-size="16.9" fill="#000" text-anchor="middle">Fusion Encoder</text>
<polyline points="769,360.2 791.2,360.2" fill="none" stroke="#000" stroke-width="1.3"/>
<polygon points="798.6,360.2 788.2,365.3 791.2,360.2 788.2,355.1" fill="#000"/>
<polyline points="769,421.2 791.2,421.2" fill="none" stroke="#000" stroke-width="1.3"/>
<polygon points="798.6,421.2 788.2,426.3 791.2,421.2 788.2,416.1" fill="#000"/>
<text x="788.8" y="292.2" font-size="21" fill="#4472c4">T<tspan font-size="16.6" dx="-0.9" dy="0.0">online</tspan></text>
<text x="790.3" y="501" font-size="21" fill="#f58a8a">T<tspan font-size="16.6" dx="-0.9" dy="0.0">online</tspan></text>
<rect x="798.6" y="297.4" width="40.2" height="25" rx="4" fill="none" stroke="#000" stroke-width="1.45" stroke-dasharray="3.3 2.8"/>
<rect x="801.7" y="301.3" width="33" height="16.8" rx="5.9" fill="url(#gBP)" stroke="#0a6cff" stroke-width="2.4"/>
<rect x="798.6" y="458.6" width="40.2" height="24.6" rx="4" fill="none" stroke="#000" stroke-width="1.45" stroke-dasharray="3.3 2.8"/>
<rect x="801.7" y="462.3" width="33" height="16.8" rx="5.9" fill="url(#gPB)" stroke="#ff0d0d" stroke-width="2.4"/>
<rect x="799.1" y="326" width="40" height="129" rx="5" fill="none" stroke="#000" stroke-width="1.4"/>
<rect x="801.6" y="330.5" width="32.8" height="16.2" rx="5.9" fill="url(#gBP)" stroke="#6c8ebf" stroke-width="2.4"/>
<rect x="801.1" y="349.6" width="33.8" height="16.8" rx="6.5" fill="url(#gBP)"/>
<rect x="801.1" y="368.6" width="33.8" height="16.8" rx="6.5" fill="url(#gBP)"/>
<rect x="801.1" y="393.8" width="33.8" height="16.8" rx="6.5" fill="url(#gPB)"/>
<rect x="801.1" y="413.2" width="33.8" height="16.8" rx="6.5" fill="url(#gPB)"/>
<rect x="801.6" y="433.5" width="32.8" height="16.4" rx="5.9" fill="url(#gPB)" stroke="#b85450" stroke-width="2.4"/>
<polyline points="839.8,360.2 863,360.2" fill="none" stroke="#000" stroke-width="1.3"/>
<polygon points="870.4,360.2 860,365.3 863,360.2 860,355.1" fill="#000"/>
<polyline points="839.8,421.2 863,421.2" fill="none" stroke="#000" stroke-width="1.3"/>
<polygon points="870.4,421.2 860,426.3 863,421.2 860,416.1" fill="#000"/>
<rect x="873.2" y="332.5" width="110.2" height="54.2" rx="9" fill="#f5f5f5" stroke="#666666" stroke-width="2.2" stroke-dasharray="7.4 6"/>
<text x="928.3" y="354.4" font-size="17.7" fill="#333333" text-anchor="middle">Transformer</text>
<text x="928.3" y="375.9" font-size="17.7" fill="#333333" text-anchor="middle">Encoder</text>
<rect x="873.2" y="395.3" width="110.2" height="54.2" rx="9" fill="#f5f5f5" stroke="#666666" stroke-width="2.2" stroke-dasharray="7.4 6"/>
<text x="928.3" y="417.2" font-size="17.7" fill="#333333" text-anchor="middle">Transformer</text>
<text x="928.3" y="438.7" font-size="17.7" fill="#333333" text-anchor="middle">Encoder</text>
<circle cx="996.9" cy="362.6" r="3.6" fill="#000"/>
<circle cx="996.9" cy="423.2" r="3.6" fill="#000"/>
<circle cx="1013.4" cy="362.6" r="3.6" fill="#000"/>
<circle cx="1013.4" cy="423.2" r="3.6" fill="#000"/>
<text x="1007.3" y="294.6" font-size="21" fill="#4472c4">T<tspan font-size="16.6" dx="-0.9" dy="0.0">online</tspan></text>
<text x="960.3" y="477" font-size="21" fill="#f58a8a">T<tspan font-size="16.6" dx="-0.9" dy="0.0">online</tspan></text>
<rect x="1019.5" y="304.4" width="40" height="24.4" rx="4" fill="none" stroke="#000" stroke-width="1.45" stroke-dasharray="3.3 2.8"/>
<rect x="1019.5" y="457" width="40" height="24.4" rx="4" fill="none" stroke="#000" stroke-width="1.45" stroke-dasharray="3.3 2.8"/>
<polyline points="1057.5,361.6 1079.8,361.6" fill="none" stroke="#000" stroke-width="1.3"/>
<polygon points="1087.2,361.6 1076.8,366.7 1079.8,361.6 1076.8,356.5" fill="#000"/>
<polyline points="1057.5,417.6 1079.8,417.6" fill="none" stroke="#000" stroke-width="1.3"/>
<polygon points="1087.2,417.6 1076.8,422.7 1079.8,417.6 1076.8,412.5" fill="#000"/>
<rect x="1022.5" y="308.5" width="32.8" height="16.4" rx="5.9" fill="url(#gBP)" stroke="#0a6cff" stroke-width="2.4"/>
<rect x="1022.5" y="332.8" width="32.8" height="15.8" rx="5.9" fill="url(#gBP)" stroke="#6c8ebf" stroke-width="2.4"/>
<rect x="1022" y="351.8" width="33.8" height="16.7" rx="6.5" fill="url(#gBP)"/>
<rect x="1022" y="370.5" width="33.8" height="16.7" rx="6.5" fill="url(#gBP)"/>
<rect x="1022" y="396.2" width="33.8" height="16.7" rx="6.5" fill="url(#gPB)"/>
<rect x="1022" y="415.1" width="33.8" height="16.7" rx="6.5" fill="url(#gPB)"/>
<rect x="1022.5" y="436.3" width="32.8" height="16" rx="5.9" fill="url(#gPB)" stroke="#b85450" stroke-width="2.4"/>
<rect x="1022.5" y="460.7" width="32.8" height="16.2" rx="5.9" fill="url(#gPB)" stroke="#ff0d0d" stroke-width="2.4"/>
</g>
<g id="rowA3">
<rect x="240.7" y="557.9" width="34.5" height="138.1" rx="7" fill="#f5f5f5" stroke="#666666" stroke-width="2.2" stroke-dasharray="7.4 6"/>
<text transform="translate(250.8,626.95) rotate(90)" font-size="16.7" fill="#333333" text-anchor="middle">Embedding</text>
<polyline points="202.5,624.7 231.2,624.7" fill="none" stroke="#000" stroke-width="1.3"/>
<polygon points="238.6,624.7 228.2,629.8 231.2,624.7 228.2,619.6" fill="#000"/>
<polyline points="276.5,624.3 298.1,624.3" fill="none" stroke="#000" stroke-width="1.3"/>
<polygon points="305.5,624.3 295.1,629.4 298.1,624.3 295.1,619.2" fill="#000"/>
<rect x="296.9" y="557.9" width="40" height="24.4" rx="4" fill="none" stroke="#000" stroke-width="1.45" stroke-dasharray="3.3 2.8"/>
<rect x="300.5" y="561.4" width="32.8" height="16.6" rx="5.9" fill="#dae8fc" stroke="#6c8ebf" stroke-width="2.4"/>
<text x="306.9" y="553.5" font-size="20" fill="#4472c4">T<tspan font-size="14" dx="-0.4" dy="4.6">0</tspan></text>
<polyline points="316.9,582.3 316.9,605.5" fill="none" stroke="#000" stroke-width="1.3"/>
<polygon points="316.9,612.9 311.8,602.5 316.9,605.5 322,602.5" fill="#000"/>
<rect x="296.9" y="664" width="40" height="24.4" rx="4" fill="none" stroke="#000" stroke-width="1.45" stroke-dasharray="3.3 2.8"/>
<rect x="300.5" y="667.5" width="32.8" height="16.6" rx="5.9" fill="#f8cecc" stroke="#b85450" stroke-width="2.4"/>
<text x="306.9" y="705" font-size="20" fill="#f58a8a">T<tspan font-size="14" dx="-0.4" dy="4.6">0</tspan></text>
<polyline points="316.9,664 316.9,643.1" fill="none" stroke="#000" stroke-width="1.3"/>
<polygon points="316.9,635.7 322,646.1 316.9,643.1 311.8,646.1" fill="#000"/>
<circle cx="316.9" cy="624.3" r="10.9" fill="#fff" stroke="#000" stroke-width="1.3"/>
<text x="316.9" y="630.4" font-size="19.5" fill="#000" text-anchor="middle">C</text>
<polyline points="328.3,624.3 355.6,624.3" fill="none" stroke="#000" stroke-width="1.3"/>
<polygon points="363,624.3 352.6,629.4 355.6,624.3 352.6,619.2" fill="#000"/>
<rect x="368.9" y="565.3" width="32.7" height="16.2" rx="5.9" fill="#dae8fc" stroke="#6c8ebf" stroke-width="2.4"/>
<rect x="368" y="585.8" width="34.5" height="16.8" rx="6.5" fill="#dae8fc"/>
<rect x="368" y="604.6" width="34.5" height="16.8" rx="6.5" fill="#dae8fc"/>
<rect x="368" y="631.6" width="34.5" height="16.8" rx="6.5" fill="#f8cecc"/>
<rect x="368" y="650.4" width="34.5" height="16.8" rx="6.5" fill="#f8cecc"/>
<rect x="368.9" y="672.3" width="32.7" height="16.4" rx="5.9" fill="#f8cecc" stroke="#b85450" stroke-width="2.4"/>
<circle cx="413.8" cy="593.7" r="3.6" fill="#000"/>
<circle cx="413.8" cy="656.2" r="3.6" fill="#000"/>
<circle cx="430" cy="593.7" r="3.6" fill="#000"/>
<circle cx="430" cy="656.2" r="3.6" fill="#000"/>
<rect x="442.1" y="565.4" width="109" height="54.1" rx="9" fill="#f5f5f5" stroke="#666666" stroke-width="2.2" stroke-dasharray="7.4 6"/>
<text x="496.6" y="588.7" font-size="17.7" fill="#333333" text-anchor="middle">Transformer</text>
<text x="496.6" y="610.2" font-size="17.7" fill="#333333" text-anchor="middle">Encoder</text>
<rect x="442.1" y="628.2" width="109" height="54.1" rx="9" fill="#f5f5f5" stroke="#666666" stroke-width="2.2" stroke-dasharray="7.4 6"/>
<text x="496.6" y="651.5" font-size="17.7" fill="#333333" text-anchor="middle">Transformer</text>
<text x="496.6" y="673" font-size="17.7" fill="#333333" text-anchor="middle">Encoder</text>
<polyline points="554.5,593.2 579.6,593.2" fill="none" stroke="#000" stroke-width="1.3"/>
<polygon points="587,593.2 576.6,598.3 579.6,593.2 576.6,588.1" fill="#000"/>
<polyline points="554.5,653.3 579.6,653.3" fill="none" stroke="#000" stroke-width="1.3"/>
<polygon points="587,653.3 576.6,658.4 579.6,653.3 576.6,648.2" fill="#000"/>
<rect x="578.6" y="537.3" width="39.6" height="24.4" rx="4" fill="none" stroke="#000" stroke-width="1.45" stroke-dasharray="3.3 2.8"/>
<rect x="582" y="540.8" width="32.8" height="16.8" rx="5.9" fill="#dae8fc" stroke="#0a6cff" stroke-width="2.4"/>
<polyline points="598.4,561.7 598.4,574.4" fill="none" stroke="#000" stroke-width="1.3"/>
<polygon points="598.4,581.8 593.3,571.4 598.4,574.4 603.5,571.4" fill="#000"/>
<rect x="578.6" y="696.2" width="39.6" height="24.4" rx="4" fill="none" stroke="#000" stroke-width="1.45" stroke-dasharray="3.3 2.8"/>
<rect x="582" y="699.9" width="32.8" height="16.8" rx="5.9" fill="#f8cecc" stroke="#ff0d0d" stroke-width="2.4"/>
<polyline points="598.4,696.2 598.4,672.1" fill="none" stroke="#000" stroke-width="1.3"/>
<polygon points="598.4,664.7 603.5,675.1 598.4,672.1 593.3,675.1" fill="#000"/>
<text x="569.6" y="530.2" font-size="21" fill="#4472c4">T<tspan font-size="16.6" dx="-0.9" dy="3">online</tspan></text>
<text x="570.8" y="738.8" font-size="21" fill="#f58a8a">T<tspan font-size="16.6" dx="-0.9" dy="3">online</tspan></text>
<circle cx="598.4" cy="593.2" r="10.9" fill="#fff" stroke="#000" stroke-width="1.3"/>
<text x="598.4" y="599.3" font-size="19.5" fill="#000" text-anchor="middle">C</text>
<circle cx="598.4" cy="653.3" r="10.9" fill="#fff" stroke="#000" stroke-width="1.3"/>
<text x="598.4" y="659.4" font-size="19.5" fill="#000" text-anchor="middle">C</text>
<polyline points="609.8,593.2 634.2,593.2" fill="none" stroke="#000" stroke-width="1.3"/>
<polygon points="641.6,593.2 631.2,598.3 634.2,593.2 631.2,588.1" fill="#000"/>
<polyline points="609.8,653.3 634.2,653.3" fill="none" stroke="#000" stroke-width="1.3"/>
<polygon points="641.6,653.3 631.2,658.4 634.2,653.3 631.2,648.2" fill="#000"/>
<rect x="640.8" y="537.4" width="40.2" height="24.2" rx="4" fill="none" stroke="#000" stroke-width="1.45" stroke-dasharray="3.3 2.8"/>
<rect x="640.8" y="689.8" width="40.2" height="24.4" rx="4" fill="none" stroke="#000" stroke-width="1.45" stroke-dasharray="3.3 2.8"/>
<rect x="643.9" y="540.9" width="32.8" height="16.8" rx="5.9" fill="#dae8fc" stroke="#0a6cff" stroke-width="2.4"/>
<rect x="643.9" y="566.3" width="32.8" height="16.4" rx="5.9" fill="#dae8fc" stroke="#6c8ebf" stroke-width="2.4"/>
<rect x="643.6" y="586.8" width="33.6" height="16.6" rx="6.5" fill="#dae8fc"/>
<rect x="643.6" y="605.6" width="33.6" height="16.6" rx="6.5" fill="#dae8fc"/>
<rect x="643.6" y="629.8" width="33.6" height="16.6" rx="6.5" fill="#f8cecc"/>
<rect x="643.6" y="648.6" width="33.6" height="16.6" rx="6.5" fill="#f8cecc"/>
<rect x="643.9" y="668.9" width="32.8" height="16.4" rx="5.9" fill="#f8cecc" stroke="#b85450" stroke-width="2.4"/>
<rect x="643.9" y="693.5" width="32.8" height="16.6" rx="5.9" fill="#f8cecc" stroke="#ff0d0d" stroke-width="2.4"/>
<polyline points="679.5,592.6 702.4,592.6" fill="none" stroke="#000" stroke-width="1.3"/>
<polygon points="709.8,592.6 699.4,597.7 702.4,592.6 699.4,587.5" fill="#000"/>
<polyline points="679.5,653.6 702.4,653.6" fill="none" stroke="#000" stroke-width="1.3"/>
<polygon points="709.8,653.6 699.4,658.7 702.4,653.6 699.4,648.5" fill="#000"/>
<rect x="713.7" y="535.4" width="54.8" height="165.8" rx="9" fill="#f6e4d0" stroke="#b46504" stroke-width="2.2" stroke-dasharray="7.4 6"/>
<text transform="translate(745.2,618.6) rotate(90)" font-size="16.9" fill="#000" text-anchor="middle">Dynamic Modal</text>
<text transform="translate(724.6,618.6) rotate(90)" font-size="16.9" fill="#000" text-anchor="middle">Fusion Encoder</text>
<polyline points="770,592.6 792.2,592.6" fill="none" stroke="#000" stroke-width="1.3"/>
<polygon points="799.6,592.6 789.2,597.7 792.2,592.6 789.2,587.5" fill="#000"/>
<polyline points="770,653.6 792.2,653.6" fill="none" stroke="#000" stroke-width="1.3"/>
<polygon points="799.6,653.6 789.2,658.7 792.2,653.6 789.2,648.5" fill="#000"/>
<text x="789.6" y="522.6" font-size="21" fill="#4472c4">T<tspan font-size="16.6" dx="-0.9" dy="3">online</tspan></text>
<text x="791" y="731.6" font-size="21" fill="#f58a8a">T<tspan font-size="16.6" dx="-0.9" dy="3">online</tspan></text>
<rect x="797.5" y="530.8" width="40.7" height="24.6" rx="4" fill="none" stroke="#000" stroke-width="1.45" stroke-dasharray="3.3 2.8"/>
<rect x="800.6" y="534.7" width="33" height="16.8" rx="5.9" fill="url(#gBP)" stroke="#0a6cff" stroke-width="2.4"/>
<rect x="797.5" y="691.6" width="40.7" height="24" rx="4" fill="none" stroke="#000" stroke-width="1.45" stroke-dasharray="3.3 2.8"/>
<rect x="800.6" y="695.3" width="33" height="16.6" rx="5.9" fill="url(#gPB)" stroke="#ff0d0d" stroke-width="2.4"/>
<rect x="798.9" y="559.5" width="40.2" height="129.5" rx="5" fill="none" stroke="#000" stroke-width="1.4"/>
<rect x="801.5" y="562.7" width="32.8" height="16.2" rx="5.9" fill="url(#gBP)" stroke="#6c8ebf" stroke-width="2.4"/>
<rect x="801" y="582.4" width="33.8" height="16.8" rx="6.5" fill="url(#gBP)"/>
<rect x="801" y="601.4" width="33.8" height="16.8" rx="6.5" fill="url(#gBP)"/>
<rect x="801" y="627.4" width="33.8" height="16.8" rx="6.5" fill="url(#gPB)"/>
<rect x="801" y="646.6" width="33.8" height="16.8" rx="6.5" fill="url(#gPB)"/>
<rect x="801.5" y="666.9" width="32.8" height="16.4" rx="5.9" fill="url(#gPB)" stroke="#b85450" stroke-width="2.4"/>
<polyline points="839.8,592.6 863,592.6" fill="none" stroke="#000" stroke-width="1.3"/>
<polygon points="870.4,592.6 860,597.7 863,592.6 860,587.5" fill="#000"/>
<polyline points="839.8,653.6 863,653.6" fill="none" stroke="#000" stroke-width="1.3"/>
<polygon points="870.4,653.6 860,658.7 863,653.6 860,648.5" fill="#000"/>
<rect x="873.2" y="564.8" width="110.2" height="54.2" rx="9" fill="#f5f5f5" stroke="#666666" stroke-width="2.2" stroke-dasharray="7.4 6"/>
<text x="928.3" y="586.1" font-size="17.7" fill="#333333" text-anchor="middle">Transformer</text>
<text x="928.3" y="607.6" font-size="17.7" fill="#333333" text-anchor="middle">Encoder</text>
<rect x="873.2" y="627.7" width="110.2" height="54.2" rx="9" fill="#f5f5f5" stroke="#666666" stroke-width="2.2" stroke-dasharray="7.4 6"/>
<text x="928.3" y="649" font-size="17.7" fill="#333333" text-anchor="middle">Transformer</text>
<text x="928.3" y="670.5" font-size="17.7" fill="#333333" text-anchor="middle">Encoder</text>
<circle cx="997.7" cy="596" r="3.6" fill="#000"/>
<circle cx="997.7" cy="655.2" r="3.6" fill="#000"/>
<circle cx="1014.2" cy="596" r="3.6" fill="#000"/>
<circle cx="1014.2" cy="655.2" r="3.6" fill="#000"/>
<text x="1006.8" y="524.4" font-size="21" fill="#4472c4">T<tspan font-size="16.6" dx="-0.9" dy="3">online</tspan></text>
<text x="1006.8" y="727.8" font-size="21" fill="#f58a8a">T<tspan font-size="16.6" dx="-0.9" dy="3">online</tspan></text>
<rect x="1022.4" y="536.6" width="40" height="24.4" rx="4" fill="none" stroke="#000" stroke-width="1.45" stroke-dasharray="3.3 2.8"/>
<rect x="1022.4" y="685.6" width="40" height="24.4" rx="4" fill="none" stroke="#000" stroke-width="1.45" stroke-dasharray="3.3 2.8"/>
<polyline points="1060.5,594 1081.2,594" fill="none" stroke="#000" stroke-width="1.3"/>
<polygon points="1088.6,594 1078.2,599.1 1081.2,594 1078.2,588.9" fill="#000"/>
<polyline points="1060.5,651.2 1081.2,651.2" fill="none" stroke="#000" stroke-width="1.3"/>
<polygon points="1088.6,651.2 1078.2,656.3 1081.2,651.2 1078.2,646.1" fill="#000"/>
<rect x="1025.9" y="540.6" width="32.8" height="16.4" rx="5.9" fill="url(#gBP)" stroke="#0a6cff" stroke-width="2.4"/>
<rect x="1025.9" y="564.9" width="32.8" height="15.8" rx="5.9" fill="url(#gBP)" stroke="#6c8ebf" stroke-width="2.4"/>
<rect x="1025.4" y="584.2" width="33.8" height="16.7" rx="6.5" fill="url(#gBP)"/>
<rect x="1025.4" y="603.2" width="33.8" height="16.7" rx="6.5" fill="url(#gBP)"/>
<rect x="1025.4" y="624.8" width="33.8" height="16.7" rx="6.5" fill="url(#gBP)"/>
<rect x="1025.4" y="643.9" width="33.8" height="16.7" rx="6.5" fill="url(#gBP)"/>
<rect x="1025.9" y="664.9" width="32.8" height="16" rx="5.9" fill="url(#gPB)" stroke="#b85450" stroke-width="2.4"/>
<rect x="1025.9" y="689.3" width="32.8" height="16.2" rx="5.9" fill="url(#gPB)" stroke="#ff0d0d" stroke-width="2.4"/>
</g>
<g id="rowB1">
<polyline points="1150,80.7 1206.4,80.7" fill="none" stroke="#6c8ebf" stroke-width="2.4" stroke-dasharray="6.8 6.7"/>
<polyline points="1150,178.4 1206.4,178.4" fill="none" stroke="#b85450" stroke-width="2.4" stroke-dasharray="6.8 6.7"/>
<rect x="1084.1" y="47" width="64.2" height="165.6" rx="9" fill="#d5e8d4" stroke="#82b366" stroke-width="2.2" stroke-dasharray="7.4 6"/>
<text transform="translate(1130.3,130) rotate(90)" font-size="17.8" fill="#000" text-anchor="middle">Prompt-based</text>
<text transform="translate(1109,130) rotate(90)" font-size="17.8" fill="#000" text-anchor="middle">Spatio-temporal</text>
<text transform="translate(1087.7,130) rotate(90)" font-size="17.8" fill="#000" text-anchor="middle">Encoder Module</text>
<rect x="1159.5" y="60.1" width="33" height="16.6" rx="5.9" fill="url(#gWB)" stroke="#0a6cff" stroke-width="2.4"/>
<rect x="1159.1" y="83.9" width="33.8" height="16.6" rx="6.5" fill="url(#gBP)"/>
<rect x="1159.1" y="102.2" width="33.8" height="16.6" rx="6.5" fill="url(#gBP)"/>
<rect x="1159.1" y="140" width="33.8" height="16.6" rx="6.5" fill="url(#gBP)"/>
<rect x="1159.1" y="158.6" width="33.8" height="16.8" rx="6.5" fill="url(#gBP)"/>
<rect x="1159.7" y="182.7" width="32.6" height="15.9" rx="5.9" fill="url(#gWP)" stroke="#ff0d0d" stroke-width="2.4"/>
<polyline points="1193.2,68.5 1269.2,68.5 1269.2,127.1" fill="none" stroke="#000" stroke-width="1.3"/>
<path d="M1269.2,127.1 A3.2,3.2 0 0 1 1269.2,133.5" fill="none" stroke="#000" stroke-width="1.3"/>
<polyline points="1269.2,133.5 1269.2,171.3" fill="none" stroke="#000" stroke-width="1.3"/>
<polygon points="1269.2,178.7 1264.1,168.3 1269.2,171.3 1274.3,168.3" fill="#000"/>
<polyline points="1191.8,101.6 1247,101.6 1247,111.6" fill="none" stroke="#000" stroke-width="1.3"/>
<polygon points="1247,119 1241.9,108.6 1247,111.6 1252.1,108.6" fill="#000"/>
<polyline points="1191.8,157 1247,157 1247,149" fill="none" stroke="#000" stroke-width="1.3"/>
<polygon points="1247,141.6 1252.1,152 1247,149 1241.9,152" fill="#000"/>
<circle cx="1247" cy="130.3" r="10.9" fill="#fff" stroke="#000" stroke-width="1.3"/>
<polyline points="1236.1,130.3 1257.9,130.3" fill="none" stroke="#000" stroke-width="1.2"/>
<polyline points="1247,119.4 1247,141.2" fill="none" stroke="#000" stroke-width="1.2"/>
<polyline points="1258.3,130.3 1296.2,130.3" fill="none" stroke="#000" stroke-width="1.3"/>
<polygon points="1303.6,130.3 1293.2,135.4 1296.2,130.3 1293.2,125.2" fill="#000"/>
<polyline points="1193.2,190.2 1250.5,190.2" fill="none" stroke="#000" stroke-width="1.3"/>
<polygon points="1257.9,190.2 1247.5,195.3 1250.5,190.2 1247.5,185.1" fill="#000"/>
<circle cx="1269.2" cy="190" r="10.9" fill="#fff" stroke="#000" stroke-width="1.3"/>
<text x="1269.2" y="196.1" font-size="19.5" fill="#000" text-anchor="middle">C</text>
<polyline points="1269.2,201.3 1269.2,213.1" fill="none" stroke="#000" stroke-width="1.3"/>
<polygon points="1269.2,218.6 1264.1,210.1 1269.2,213.1 1274.3,210.1" fill="#000"/>
<rect x="1250.7" y="219.2" width="37.8" height="47.7" rx="5" fill="none" stroke="#000" stroke-width="1.45" stroke-dasharray="3.3 2.8"/>
<rect x="1252.7" y="223.4" width="32.6" height="15.8" rx="5.9" fill="url(#gWB)" stroke="#0a6cff" stroke-width="2.4"/>
<rect x="1252.7" y="244.2" width="32.6" height="16" rx="5.9" fill="url(#gWP)" stroke="#ff0d0d" stroke-width="2.4"/>
<rect x="1304.9" y="90.3" width="24.8" height="79.1" rx="4.5" fill="#f5f5f5" stroke="#666666" stroke-width="2"/>
<text transform="translate(1309.7,130.2) rotate(90)" font-size="18" fill="#333333" text-anchor="middle">Head</text>
</g>
<g id="rowB2">
<polyline points="1150,342.4 1206.4,342.4" fill="none" stroke="#6c8ebf" stroke-width="2.4" stroke-dasharray="6.8 6.7"/>
<polyline points="1150,440.1 1206.4,440.1" fill="none" stroke="#b85450" stroke-width="2.4" stroke-dasharray="6.8 6.7"/>
<rect x="1088.2" y="311.9" width="64.4" height="165.3" rx="9" fill="#d5e8d4" stroke="#82b366" stroke-width="2.2" stroke-dasharray="7.4 6"/>
<text transform="translate(1134.4,394.75) rotate(90)" font-size="17.8" fill="#000" text-anchor="middle">Prompt-based</text>
<text transform="translate(1113.1,394.75) rotate(90)" font-size="17.8" fill="#000" text-anchor="middle">Spatio-temporal</text>
<text transform="translate(1091.8,394.75) rotate(90)" font-size="17.8" fill="#000" text-anchor="middle">Encoder Module</text>
<rect x="1159.5" y="321.8" width="33" height="16.6" rx="5.9" fill="url(#gWB)" stroke="#0a6cff" stroke-width="2.4"/>
<rect x="1159.1" y="345.6" width="33.8" height="16.6" rx="6.5" fill="url(#gBP)"/>
<rect x="1159.1" y="363.9" width="33.8" height="16.6" rx="6.5" fill="url(#gBP)"/>
<rect x="1159.1" y="401.7" width="33.8" height="16.6" rx="6.5" fill="url(#gBP)"/>
<rect x="1159.1" y="420.3" width="33.8" height="16.8" rx="6.5" fill="url(#gBP)"/>
<rect x="1159.7" y="444.4" width="32.6" height="15.9" rx="5.9" fill="url(#gWP)" stroke="#ff0d0d" stroke-width="2.4"/>
<polyline points="1193.2,330.2 1269.2,330.2 1269.2,388.8" fill="none" stroke="#000" stroke-width="1.3"/>
<path d="M1269.2,388.8 A3.2,3.2 0 0 1 1269.2,395.2" fill="none" stroke="#000" stroke-width="1.3"/>
<polyline points="1269.2,395.2 1269.2,433.6" fill="none" stroke="#000" stroke-width="1.3"/>
<polygon points="1269.2,441 1264.1,430.6 1269.2,433.6 1274.3,430.6" fill="#000"/>
<polyline points="1191.8,363.3 1247,363.3 1247,373.3" fill="none" stroke="#000" stroke-width="1.3"/>
<polygon points="1247,380.7 1241.9,370.3 1247,373.3 1252.1,370.3" fill="#000"/>
<polyline points="1191.8,418.7 1247,418.7 1247,410.7" fill="none" stroke="#000" stroke-width="1.3"/>
<polygon points="1247,403.3 1252.1,413.7 1247,410.7 1241.9,413.7" fill="#000"/>
<circle cx="1247" cy="392" r="10.9" fill="#fff" stroke="#000" stroke-width="1.3"/>
<polyline points="1236.1,392 1257.9,392" fill="none" stroke="#000" stroke-width="1.2"/>
<polyline points="1247,381.1 1247,402.9" fill="none" stroke="#000" stroke-width="1.2"/>
<polyline points="1258.3,392 1296.2,392" fill="none" stroke="#000" stroke-width="1.3"/>
<polygon points="1303.6,392 1293.2,397.1 1296.2,392 1293.2,386.9" fill="#000"/>
<polyline points="1193.2,452.5 1250.5,452.5" fill="none" stroke="#000" stroke-width="1.3"/>
<polygon points="1257.9,452.5 1247.5,457.6 1250.5,452.5 1247.5,447.4" fill="#000"/>
<circle cx="1269.2" cy="452.3" r="10.9" fill="#fff" stroke="#000" stroke-width="1.3"/>
<text x="1269.2" y="458.4" font-size="19.5" fill="#000" text-anchor="middle">C</text>
<polyline points="1269.2,463.6 1269.2,474.8" fill="none" stroke="#000" stroke-width="1.3"/>
<polygon points="1269.2,480.3 1264.1,471.8 1269.2,474.8 1274.3,471.8" fill="#000"/>
<rect x="1249.6" y="480.9" width="38.9" height="47.7" rx="5" fill="none" stroke="#000" stroke-width="1.45" stroke-dasharray="3.3 2.8"/>
<rect x="1252.7" y="485.1" width="32.6" height="15.8" rx="5.9" fill="url(#gWB)" stroke="#0a6cff" stroke-width="2.4"/>
<rect x="1252.7" y="505.9" width="32.6" height="16" rx="5.9" fill="url(#gWP)" stroke="#ff0d0d" stroke-width="2.4"/>
<rect x="1304.9" y="352" width="24.8" height="79.1" rx="4.5" fill="#f5f5f5" stroke="#666666" stroke-width="2"/>
<text transform="translate(1309.7,391.9) rotate(90)" font-size="18" fill="#333333" text-anchor="middle">Head</text>
</g>
<g id="rowB3">
<polyline points="1151.2,574.9 1207.6,574.9" fill="none" stroke="#6c8ebf" stroke-width="2.4" stroke-dasharray="6.8 6.7"/>
<polyline points="1151.2,672.6 1207.6,672.6" fill="none" stroke="#b85450" stroke-width="2.4" stroke-dasharray="6.8 6.7"/>
<rect x="1089.6" y="542.6" width="64.2" height="165.8" rx="9" fill="#d5e8d4" stroke="#82b366" stroke-width="2.2" stroke-dasharray="7.4 6"/>
<text transform="translate(1135.8,625.7) rotate(90)" font-size="17.8" fill="#000" text-anchor="middle">Prompt-based</text>
<text transform="translate(1114.5,625.7) rotate(90)" font-size="17.8" fill="#000" text-anchor="middle">Spatio-temporal</text>
<text transform="translate(1093.2,625.7) rotate(90)" font-size="17.8" fill="#000" text-anchor="middle">Encoder Module</text>
<rect x="1160.7" y="554.3" width="33" height="16.6" rx="5.9" fill="url(#gWB)" stroke="#0a6cff" stroke-width="2.4"/>
<rect x="1160.3" y="578.1" width="33.8" height="16.6" rx="6.5" fill="url(#gBP)"/>
<rect x="1160.3" y="596.4" width="33.8" height="16.6" rx="6.5" fill="url(#gBP)"/>
<rect x="1160.3" y="634.2" width="33.8" height="16.6" rx="6.5" fill="url(#gBP)"/>
<rect x="1160.3" y="652.8" width="33.8" height="16.8" rx="6.5" fill="url(#gBP)"/>
<rect x="1160.9" y="676.9" width="32.6" height="15.9" rx="5.9" fill="url(#gWP)" stroke="#ff0d0d" stroke-width="2.4"/>
<polyline points="1194.4,562.7 1270.64,562.7 1270.64,621.3" fill="none" stroke="#000" stroke-width="1.3"/>
<path d="M1270.64,621.3 A3.2,3.2 0 0 1 1270.64,627.7" fill="none" stroke="#000" stroke-width="1.3"/>
<polyline points="1270.64,627.7 1270.64,665.8" fill="none" stroke="#000" stroke-width="1.3"/>
<polygon points="1270.64,673.2 1265.54,662.8 1270.64,665.8 1275.74,662.8" fill="#000"/>
<polyline points="1193,595.8 1247.96,595.8 1247.96,605.8" fill="none" stroke="#000" stroke-width="1.3"/>
<polygon points="1247.96,613.2 1242.86,602.8 1247.96,605.8 1253.06,602.8" fill="#000"/>
<polyline points="1193,651.2 1247.96,651.2 1247.96,643.2" fill="none" stroke="#000" stroke-width="1.3"/>
<polygon points="1247.96,635.8 1253.06,646.2 1247.96,643.2 1242.86,646.2" fill="#000"/>
<circle cx="1247.96" cy="624.5" r="10.9" fill="#fff" stroke="#000" stroke-width="1.3"/>
<polyline points="1237.06,624.5 1258.86,624.5" fill="none" stroke="#000" stroke-width="1.2"/>
<polyline points="1247.96,613.6 1247.96,635.4" fill="none" stroke="#000" stroke-width="1.2"/>
<polyline points="1259.26,624.5 1297.4,624.5" fill="none" stroke="#000" stroke-width="1.3"/>
<polygon points="1304.8,624.5 1294.4,629.6 1297.4,624.5 1294.4,619.4" fill="#000"/>
<polyline points="1194.4,684.7 1251.94,684.7" fill="none" stroke="#000" stroke-width="1.3"/>
<polygon points="1259.34,684.7 1248.94,689.8 1251.94,684.7 1248.94,679.6" fill="#000"/>
<circle cx="1270.64" cy="684.5" r="10.9" fill="#fff" stroke="#000" stroke-width="1.3"/>
<text x="1270.64" y="690.6" font-size="19.5" fill="#000" text-anchor="middle">C</text>
<polyline points="1270.64,695.8 1270.64,707.3" fill="none" stroke="#000" stroke-width="1.3"/>
<polygon points="1270.64,712.8 1265.54,704.3 1270.64,707.3 1275.74,704.3" fill="#000"/>
<rect x="1250.8" y="713.4" width="38.9" height="47.7" rx="5" fill="none" stroke="#000" stroke-width="1.45" stroke-dasharray="3.3 2.8"/>
<rect x="1253.9" y="717.6" width="32.6" height="15.8" rx="5.9" fill="url(#gWB)" stroke="#0a6cff" stroke-width="2.4"/>
<rect x="1253.9" y="738.4" width="32.6" height="16" rx="5.9" fill="url(#gWP)" stroke="#ff0d0d" stroke-width="2.4"/>
<rect x="1306.1" y="584.5" width="24.8" height="79.1" rx="4.5" fill="#f5f5f5" stroke="#666666" stroke-width="2"/>
<text transform="translate(1310.9,624.4) rotate(90)" font-size="18" fill="#333333" text-anchor="middle">Head</text>
</g>
<rect x="1077.6" y="0.8" width="80.2" height="24" rx="4" fill="none" stroke="#000" stroke-width="1.45" stroke-dasharray="3.3 2.8"/>
<rect x="1082.1" y="4.3" width="32.6" height="16.6" rx="5.9" fill="#dae8fc" stroke="#6c8ebf" stroke-width="2.4"/>
<rect x="1118.9" y="4.3" width="32.8" height="16.6" rx="5.9" fill="#f8cecc" stroke="#b85450" stroke-width="2.4"/>
<polyline points="1116.4,24.8 1116.4,39" fill="none" stroke="#000" stroke-width="1.3"/>
<polygon points="1116.4,46.4 1111.3,36 1116.4,39 1121.5,36" fill="#000"/>
<polyline points="1120.6,289.6 1120.6,303.2" fill="none" stroke="#000" stroke-width="1.3"/>
<polygon points="1120.6,310.6 1115.5,300.2 1120.6,303.2 1125.7,300.2" fill="#000"/>
<polyline points="1246.8,505.1 1119.4,505.1 1119.4,534" fill="none" stroke="#000" stroke-width="1.3"/>
<polygon points="1119.4,541.4 1114.3,531 1119.4,534 1124.5,531" fill="#000"/>
<text x="1021.8" y="245.3" font-size="13.4" fill="#000" text-anchor="start">Multimodal Spatio-Temporal Tokens</text>
<text x="1030.4" y="498" font-size="13.4" fill="#000" text-anchor="start">Multimodal Spatio-Temporal Tokens</text>
<g id="photos">
<rect x="50" y="72.6" width="150.8" height="119" rx="0" fill="none" stroke="#000" stroke-width="1.6" stroke-dasharray="3.8 2.95"/>
<use href="#rgbT" x="86.6" y="80" width="35.6" height="35.2"/>
<rect x="86.6" y="80" width="35.6" height="35.2" fill="none" stroke="#d8d8d8" stroke-width="0.8"/>
<use href="#tirT" x="155.9" y="81" width="36" height="35.4"/>
<use href="#rgbA" x="54.2" y="117" width="68.2" height="67.6"/>
<use href="#tirA" x="123.2" y="116.2" width="69" height="68.4"/>
<text x="119.3" y="112.8" font-size="17.2" fill="#3333ff" text-anchor="end">#0</text>
<text x="187.7" y="112.8" font-size="17.2" fill="#ffff33" text-anchor="end">#0</text>
<text x="116.9" y="181.8" font-size="17.2" fill="#3333ff" text-anchor="end">#1</text>
<text x="186.5" y="181.8" font-size="17.2" fill="#ffff33" text-anchor="end">#1</text>
<rect x="48.6" y="352.6" width="151" height="78.8" rx="0" fill="none" stroke="#000" stroke-width="1.6" stroke-dasharray="3.8 2.95"/>
<use href="#rgbB" x="54.4" y="356" width="68.4" height="70.8"/>
<use href="#tirB" x="122.8" y="356" width="69.2" height="70.8"/>
<text x="121.8" y="422.2" font-size="17.2" fill="#3333ff" text-anchor="end">#n-1</text>
<text x="191.2" y="422.2" font-size="17.2" fill="#ffff33" text-anchor="end">#n-1</text>
<rect x="48.4" y="585.6" width="151.2" height="79.2" rx="0" fill="none" stroke="#000" stroke-width="1.6" stroke-dasharray="3.8 2.95"/>
<use href="#rgbC" x="55.2" y="591.8" width="69.2" height="63.8"/>
<use href="#tirC" x="125" y="591.8" width="68" height="63.8"/>
<text x="117" y="652.8" font-size="17.2" fill="#3333ff" text-anchor="end">#n</text>
<text x="186.8" y="652.8" font-size="17.2" fill="#ffff33" text-anchor="end">#n</text>
<polyline points="1330.3,130.3 1361.5,130.3" fill="none" stroke="#000" stroke-width="1.3"/>
<polygon points="1368.9,130.3 1358.5,135.4 1361.5,130.3 1358.5,125.2" fill="#000"/>
<use href="#rgbA" x="1369.3" y="100" width="65.5" height="65.3"/>
<rect x="1392.5" y="118.6" width="20.8" height="27.6" fill="none" stroke="#ff1a1a" stroke-width="1.2"/>
<text x="1434" y="163.4" font-size="16.4" fill="#3333ff" text-anchor="end">#1</text>
<polyline points="1402.3,168.3 1402.3,201.2" fill="none" stroke="#000" stroke-width="1.3"/>
<polygon points="1402.3,208.6 1397.2,198.2 1402.3,201.2 1407.4,198.2" fill="#000"/>
<use href="#rgbT" x="1366.6" y="214.5" width="36.5" height="35.9"/>
<use href="#tirT" x="1403.1" y="214.5" width="35.1" height="35.9"/>
<rect x="1365" y="212.5" width="75.4" height="40.5" rx="5" fill="none" stroke="#000" stroke-width="1.5" stroke-dasharray="3.6 3.2"/>
<text x="1400.8" y="248.6" font-size="16.4" fill="#3333ff" text-anchor="end">#1</text>
<text x="1437.2" y="248.6" font-size="16.4" fill="#ffff33" text-anchor="end">#1</text>
<polyline points="1331.3,391.9 1362.5,391.9" fill="none" stroke="#000" stroke-width="1.3"/>
<polygon points="1369.9,391.9 1359.5,397 1362.5,391.9 1359.5,386.8" fill="#000"/>
<use href="#rgbB" x="1370.3" y="360.8" width="64.5" height="64.6"/>
<rect x="1390" y="379" width="21.6" height="27.5" fill="none" stroke="#ff1a1a" stroke-width="1.2"/>
<text x="1434.4" y="424.2" font-size="17.2" fill="#3333ff" text-anchor="end">#n-1</text>
<polyline points="1402,429.6 1402,462.2" fill="none" stroke="#000" stroke-width="1.3"/>
<polygon points="1402,469.6 1396.9,459.2 1402,462.2 1407.1,459.2" fill="#000"/>
<use href="#rgbT" x="1367.2" y="476.3" width="36.3" height="35.3"/>
<use href="#tirT" x="1403.5" y="476.3" width="34.9" height="35.3"/>
<rect x="1365.6" y="474.3" width="75" height="39.9" rx="5" fill="none" stroke="#000" stroke-width="1.5" stroke-dasharray="3.6 3.2"/>
<text x="1401.6" y="511" font-size="17.2" fill="#3333ff" text-anchor="end">#n-1</text>
<text x="1437.6" y="511" font-size="17.2" fill="#ffff33" text-anchor="end">#n-1</text>
<polyline points="1333,624.6 1364.2,624.6" fill="none" stroke="#000" stroke-width="1.3"/>
<polygon points="1371.6,624.6 1361.2,629.7 1364.2,624.6 1361.2,619.5" fill="#000"/>
<use href="#rgbC" x="1372" y="594.9" width="66.1" height="63"/>
<rect x="1391.6" y="611.4" width="25.8" height="27.6" fill="none" stroke="#ff1a1a" stroke-width="1.2"/>
<text x="1437.6" y="656.6" font-size="17.2" fill="#3333ff" text-anchor="end">#n</text>
<polyline points="1403,662 1403,695.2" fill="none" stroke="#000" stroke-width="1.3"/>
<polygon points="1403,702.6 1397.9,692.2 1403,695.2 1408.1,692.2" fill="#000"/>
<use href="#rgbT" x="1368.1" y="708.7" width="36.3" height="35"/>
<use href="#tirT" x="1404.4" y="708.7" width="34.9" height="35"/>
<rect x="1366.5" y="706.7" width="75" height="39.6" rx="5" fill="none" stroke="#000" stroke-width="1.5" stroke-dasharray="3.6 3.2"/>
<text x="1402.6" y="743.4" font-size="17.2" fill="#3333ff" text-anchor="end">#n</text>
<text x="1438.4" y="743.4" font-size="17.2" fill="#ffff33" text-anchor="end">#n</text>
</g>
<g id="legend">
<rect x="93.5" y="762.7" width="1345.3" height="43.6" rx="7" fill="none" stroke="#000" stroke-width="1.5" stroke-dasharray="3.4 2.4"/>
<rect x="110" y="773" width="16" height="21" fill="#f7f7f7"/>
<text x="111.6" y="791.3" font-size="20" fill="#4472c4">T<tspan font-size="14" dx="-0.4" dy="4.6">0</tspan></text>
<text x="141.6" y="791.3" font-size="20" fill="#f58a8a">T<tspan font-size="14" dx="-0.4" dy="4.6">0</tspan></text>
<rect x="166.8" y="767.8" width="39.6" height="35.2" rx="4" fill="none" stroke="#000" stroke-width="1.45" stroke-dasharray="3.3 2.8"/>
<rect x="169.7" y="770.7" width="32.6" height="12.8" rx="5.4" fill="#dae8fc" stroke="#6c8ebf" stroke-width="2.4"/>
<rect x="169.7" y="787.1" width="32.6" height="13" rx="5.4" fill="#f8cecc" stroke="#b85450" stroke-width="2.4"/>
<text x="211.8" y="787.6" font-size="15.6" fill="#000" text-anchor="start">Init Template Tokens</text>
<text x="384.2" y="790" font-size="21" fill="#4472c4">T<tspan font-size="16.6" dx="-0.9" dy="3.6">online</tspan></text>
<text x="445.9" y="788.8" font-size="21" fill="#f58a8a">T<tspan font-size="16.6" dx="-0.9" dy="3">online</tspan></text>
<rect x="519.4" y="767.8" width="39" height="36" rx="4" fill="none" stroke="#000" stroke-width="1.45" stroke-dasharray="3.3 2.8"/>
<rect x="522.1" y="770.3" width="32.6" height="12.6" rx="5.4" fill="#dae8fc" stroke="#0a6cff" stroke-width="2.4"/>
<rect x="522.1" y="787.5" width="32.6" height="12.8" rx="5.4" fill="#f8cecc" stroke="#ff0d0d" stroke-width="2.4"/>
<text x="570.4" y="790" font-size="15.6" fill="#000" text-anchor="start">Online Template Tokens</text>
<circle cx="776.8" cy="784.4" r="11.2" fill="#fff" stroke="#000" stroke-width="1.3"/>
<polyline points="765.6,784.4 788,784.4" fill="none" stroke="#000" stroke-width="1.2"/>
<polyline points="776.8,773.2 776.8,795.6" fill="none" stroke="#000" stroke-width="1.2"/>
<text x="797.2" y="788.8" font-size="15.6" fill="#000" text-anchor="start">Element-wise Addition</text>
<circle cx="990" cy="784.8" r="11.3" fill="#fff" stroke="#000" stroke-width="1.3"/>
<text x="990" y="790.9" font-size="19.5" fill="#000" text-anchor="middle">C</text>
<text x="1008.6" y="789.6" font-size="15.6" fill="#000" text-anchor="start">Concatenation</text>
<rect x="1131.1" y="767.3" width="32.2" height="15.4" rx="5.9" fill="#f8cecc" stroke="#b85450" stroke-width="2.4"/>
<rect x="1130.6" y="787" width="33.4" height="16.2" rx="6.5" fill="#f8cecc"/>
<text x="1172.6" y="785.8" font-size="15.6" fill="#000" text-anchor="start">RGB Tokens</text>
<rect x="1281.5" y="768.5" width="32.6" height="15.2" rx="5.9" fill="#dae8fc" stroke="#6c8ebf" stroke-width="2.4"/>
<rect x="1281" y="788" width="33.6" height="16" rx="6.5" fill="#dae8fc"/>
<text x="1323.6" y="787.6" font-size="15.6" fill="#000" text-anchor="start">TIR Tokens</text>
</g>
</svg>
</body></html>
